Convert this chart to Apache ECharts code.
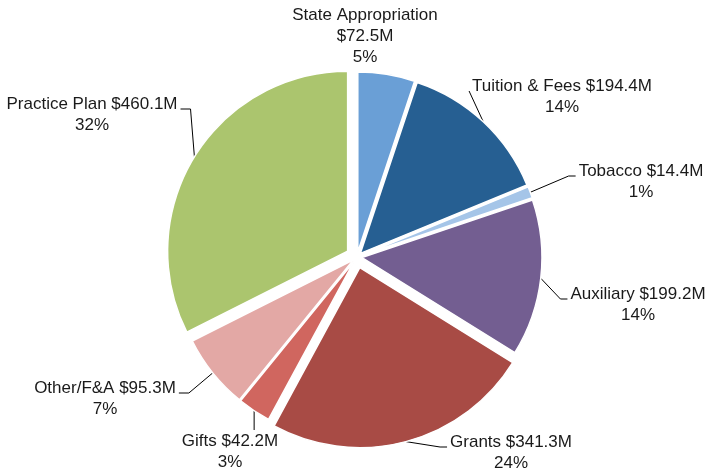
<!DOCTYPE html>
<html>
<head>
<meta charset="utf-8">
<script src="https://cdn.jsdelivr.net/npm/echarts@6/dist/echarts.min.js"></script>
<style>
  html, body { margin: 0; padding: 0; background: #fff; }
  #chart { width: 711px; height: 471px; }
</style>
</head>
<body>
<div id="chart"></div>
<script>
const categories = ["State Appropriation", "Tuition & Fees", "Tobacco", "Auxiliary", "Grants", "Gifts", "Other/F&A", "Practice Plan"];
const values = [72.5, 194.4, 14.4, 199.2, 341.3, 42.2, 95.3, 460.1];
const colors = ["#6a9fd6", "#265f92", "#a5c5e8", "#735e91", "#a84b45", "#d0665f", "#e3a8a5", "#abc56e"];
// slices pulled out further than the rest
const bigExplode = ["Grants", "Practice Plan"];

// where each label sits: centre x, centre y, which side the leader joins, elbow length
const labelPlace = {
  "State Appropriation": [365, 36, "none", 0],
  "Tuition & Fees": [562, 97, "left", 0],
  "Tobacco": [641, 182, "left", 7],
  "Auxiliary": [638, 305, "left", 7],
  "Grants": [511, 453, "left", 7],
  "Gifts": [230, 452, "top", 0],
  "Other/F&A": [105, 399, "right", 10],
  "Practice Plan": [92, 115, "right", 10]
};

const CENTER = [357, 257];
const R = 180;
const SMALL_OFF = 5, BIG_OFF = 11;

function formatLabel(p) {
  if (p.name === "State Appropriation") {
    return p.name + "\n$" + p.value + "M\n" + p.percent + "%";
  }
  return p.name + " $" + p.value + "M\n" + p.percent + "%";
}

function placeLabel(params) {
  const pl = labelPlace[categories[params.dataIndex]];
  if (!pl) return {};
  const w = params.labelRect.width, h = params.labelRect.height;
  const cx = pl[0], cy = pl[1], side = pl[2], elbow = pl[3];
  const out = { x: cx, y: cy, align: "center", verticalAlign: "middle" };
  const p0 = params.labelLinePoints ? params.labelLinePoints[0] : null;
  if (p0 && side !== "none") {
    const ly = cy - h / 2 + 15;
    if (side === "left") {
      const ex = cx - w / 2 - 3;
      out.labelLinePoints = [p0, [ex - elbow, ly], [ex, ly]];
    } else if (side === "right") {
      const ex = cx + w / 2 + 3;
      out.labelLinePoints = [p0, [ex + elbow, ly], [ex, ly]];
    } else {
      const top = cy - h / 2 - 1;
      out.labelLinePoints = [p0, [p0[0], top], [p0[0], top]];
    }
  }
  return out;
}

// coloured slices, pulled out by offset
function sliceSeries(group, offset) {
  return {
    type: "pie",
    center: CENTER,
    radius: [0, R],
    startAngle: 90,
    clockwise: true,
    selectedMode: "multiple",
    selectedOffset: offset,
    silent: true,
    animation: false,
    label: { show: false },
    labelLine: { show: false },
    data: categories.map(function (name, i) {
      const mine = group(name);
      return {
        name: name,
        value: values[i],
        selected: true,
        itemStyle: {
          color: mine ? colors[i] : "rgba(0,0,0,0)",
          borderColor: "#fff",
          borderWidth: mine ? 1.5 : 0
        }
      };
    })
  };
}

// invisible slices that only carry the labels and leader lines
function labelSeries(group, offset) {
  return {
    type: "pie",
    center: CENTER,
    radius: [0, R + offset],
    startAngle: 90,
    clockwise: true,
    percentPrecision: 0,
    silent: true,
    animation: false,
    avoidLabelOverlap: false,
    label: {
      show: true,
      formatter: formatLabel,
      fontFamily: "Liberation Sans, Arial, sans-serif",
      fontSize: 17,
      lineHeight: 21,
      color: "#1a1a1a"
    },
    labelLine: {
      show: true,
      length: 12,
      length2: 8,
      lineStyle: { color: "#000", width: 1 }
    },
    labelLayout: placeLabel,
    itemStyle: { color: "rgba(0,0,0,0)", borderWidth: 0 },
    data: categories.map(function (name, i) {
      const mine = group(name);
      return {
        name: name,
        value: values[i],
        label: { show: mine },
        labelLine: { show: mine && name !== "State Appropriation" }
      };
    })
  };
}

function isBig(n) { return bigExplode.indexOf(n) >= 0; }
function isSmall(n) { return bigExplode.indexOf(n) < 0; }

const chart = echarts.init(document.getElementById("chart"));
chart.setOption({
  backgroundColor: "#fff",
  series: [
    sliceSeries(isSmall, SMALL_OFF),
    sliceSeries(isBig, BIG_OFF),
    labelSeries(isSmall, SMALL_OFF),
    labelSeries(isBig, BIG_OFF)
  ]
});
</script>
</body>
</html>
